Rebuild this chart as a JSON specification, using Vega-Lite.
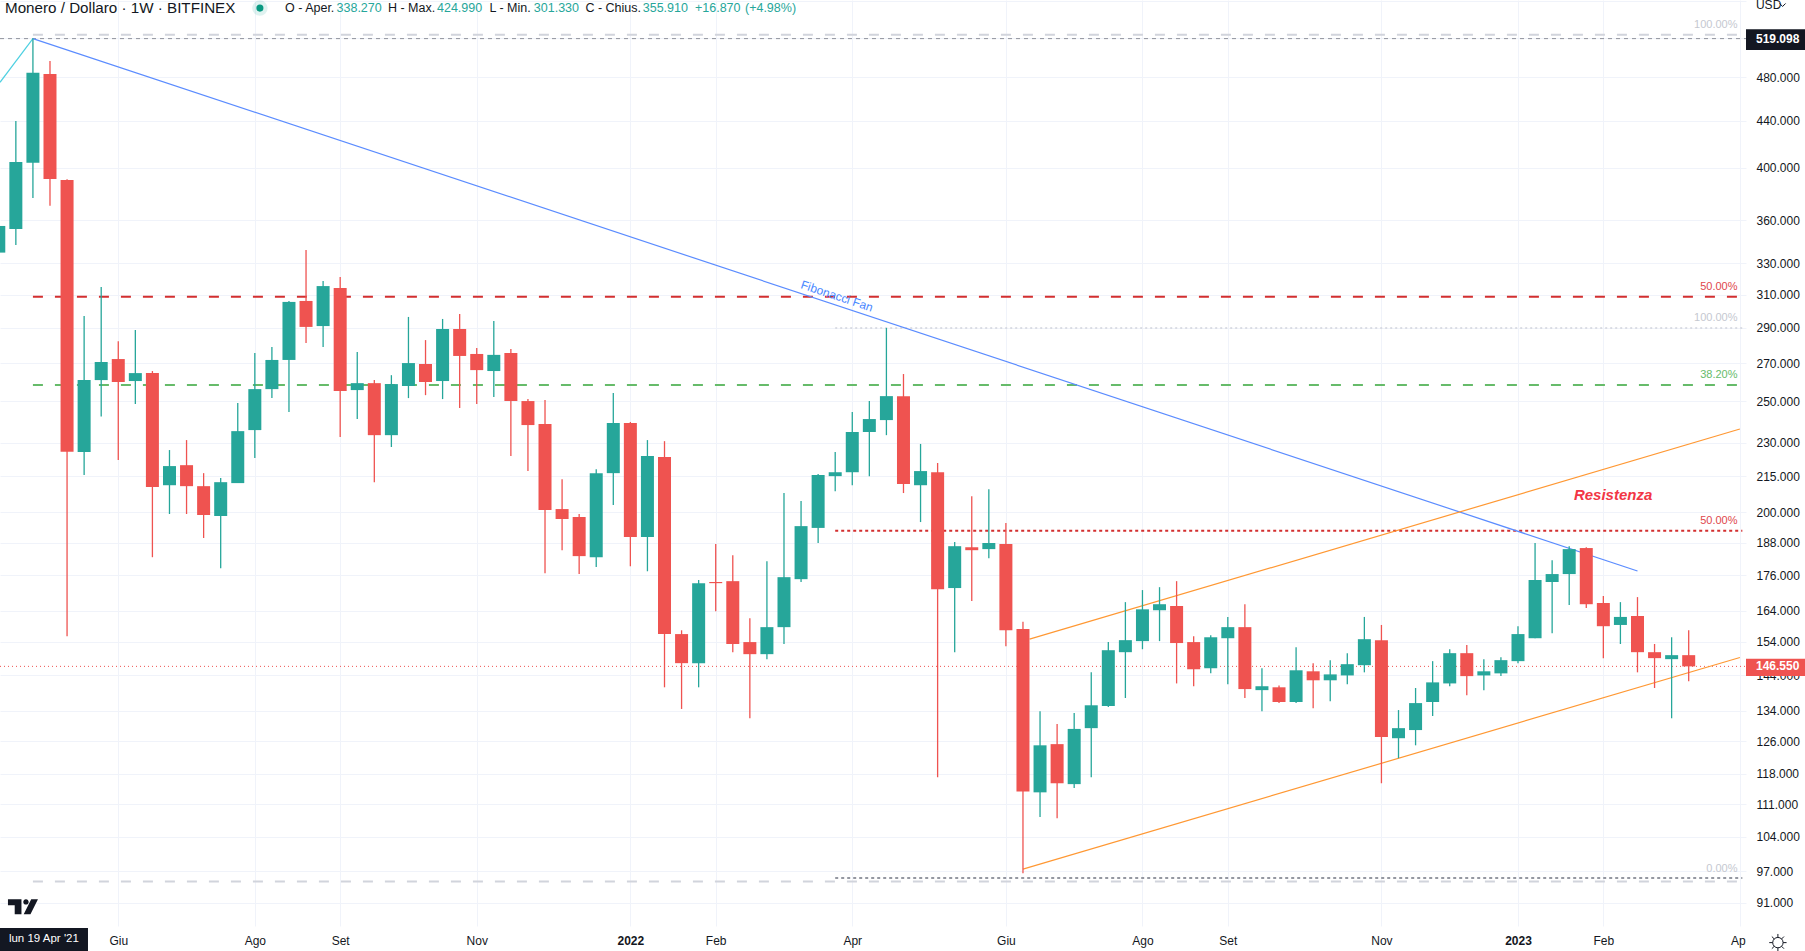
{
  "$schema": "https://vega.github.io/schema/vega-lite/v6.json",
  "description": "Monero / Dollaro weekly candles with channel, fan and fibonacci levels",
  "width": 1746,
  "height": 926,
  "autosize": "none",
  "padding": {"left": 0, "top": 0, "right": 59, "bottom": 25},
  "background": "#ffffff",
  "view": {"stroke": null},
  "config": {"font": "Liberation Sans"},
  "datasets": {
    "candles": [
      {"date":"2021-04-19","open":337.3,"high":360,"low":330,"close":355.9},
      {"date":"2021-04-26","open":353.7,"high":439.7,"low":342.5,"close":404.9},
      {"date":"2021-05-03","open":404.3,"high":519.1,"low":376.5,"close":484.7},
      {"date":"2021-05-10","open":483.4,"high":496.2,"low":370.7,"close":391.2},
      {"date":"2021-05-17","open":390.4,"high":391,"low":155.7,"close":225.8},
      {"date":"2021-05-24","open":225.7,"high":296.9,"low":215.5,"close":260.9},
      {"date":"2021-05-31","open":260.9,"high":314.7,"low":242.4,"close":270.6},
      {"date":"2021-06-07","open":272.2,"high":282.2,"low":222.1,"close":259.9},
      {"date":"2021-06-14","open":260.4,"high":288.6,"low":248.6,"close":264.6},
      {"date":"2021-06-21","open":264.6,"high":265.7,"low":182.6,"close":210.3},
      {"date":"2021-06-28","open":211.1,"high":226.6,"low":199.2,"close":219.4},
      {"date":"2021-07-05","open":219.8,"high":231.2,"low":199.2,"close":210.7},
      {"date":"2021-07-12","open":210.7,"high":216.3,"low":189.8,"close":198.8},
      {"date":"2021-07-19","open":198.4,"high":214.2,"low":178.6,"close":212.4},
      {"date":"2021-07-26","open":212.0,"high":249.1,"low":212.0,"close":235.4},
      {"date":"2021-08-02","open":235.9,"high":275.5,"low":223.0,"close":256.2},
      {"date":"2021-08-09","open":256.2,"high":278.9,"low":251.6,"close":271.7},
      {"date":"2021-08-16","open":271.7,"high":306.0,"low":244.6,"close":305.4},
      {"date":"2021-08-23","open":306.0,"high":339.1,"low":281.1,"close":290.4},
      {"date":"2021-08-30","open":290.9,"high":318.6,"low":278.9,"close":315.3},
      {"date":"2021-09-06","open":314.1,"high":321.1,"low":232.6,"close":255.2},
      {"date":"2021-09-13","open":255.7,"high":276.1,"low":241.2,"close":259.3},
      {"date":"2021-09-20","open":259.3,"high":260.9,"low":212.4,"close":233.5},
      {"date":"2021-09-27","open":233.5,"high":263.5,"low":228.0,"close":258.8},
      {"date":"2021-10-04","open":257.8,"high":296.3,"low":251.6,"close":270.0},
      {"date":"2021-10-11","open":269.5,"high":282.8,"low":253.1,"close":259.9},
      {"date":"2021-10-18","open":260.4,"high":295.1,"low":251.1,"close":289.2},
      {"date":"2021-10-25","open":289.2,"high":298.1,"low":246.6,"close":273.9},
      {"date":"2021-11-01","open":275.0,"high":278.3,"low":248.6,"close":266.2},
      {"date":"2021-11-08","open":265.7,"high":293.9,"low":252.1,"close":274.5},
      {"date":"2021-11-15","open":275.5,"high":277.8,"low":223.9,"close":250.1},
      {"date":"2021-11-22","open":250.1,"high":251.1,"low":217.2,"close":238.3},
      {"date":"2021-11-29","open":238.8,"high":250.6,"low":176.8,"close":200.8},
      {"date":"2021-12-06","open":201.2,"high":213.7,"low":185.2,"close":197.2},
      {"date":"2021-12-13","open":198.0,"high":199.2,"low":176.5,"close":183.0},
      {"date":"2021-12-20","open":182.6,"high":218.0,"low":179.0,"close":216.3},
      {"date":"2021-12-27","open":216.3,"high":254.2,"low":202.9,"close":239.3},
      {"date":"2022-01-03","open":239.3,"high":239.8,"low":179.3,"close":190.2},
      {"date":"2022-01-10","open":190.2,"high":231.2,"low":177.5,"close":223.9},
      {"date":"2022-01-17","open":223.5,"high":230.7,"low":140.5,"close":156.4},
      {"date":"2022-01-24","open":156.4,"high":157.6,"low":134.5,"close":147.5},
      {"date":"2022-01-31","open":147.5,"high":174.4,"low":140.5,"close":173.3},
      {"date":"2022-02-07","open":173.7,"high":187.5,"low":163.8,"close":173.3},
      {"date":"2022-02-14","open":174.0,"high":183.3,"low":150.8,"close":153.3},
      {"date":"2022-02-21","open":153.9,"high":161.5,"low":132.0,"close":150.2},
      {"date":"2022-02-28","open":150.2,"high":181.1,"low":148.7,"close":158.6},
      {"date":"2022-03-07","open":158.6,"high":207.8,"low":153.3,"close":175.4},
      {"date":"2022-03-14","open":174.7,"high":204.5,"low":173.7,"close":194.4},
      {"date":"2022-03-21","open":193.7,"high":215.9,"low":187.9,"close":215.5},
      {"date":"2022-03-28","open":215.0,"high":225.7,"low":208.6,"close":216.7},
      {"date":"2022-04-04","open":216.7,"high":244.6,"low":211.1,"close":235.0},
      {"date":"2022-04-11","open":235.0,"high":250.1,"low":215.0,"close":241.2},
      {"date":"2022-04-18","open":240.7,"high":289.8,"low":233.5,"close":252.6},
      {"date":"2022-04-25","open":252.6,"high":264.1,"low":207.8,"close":211.6},
      {"date":"2022-05-02","open":211.1,"high":229.4,"low":196.0,"close":217.2},
      {"date":"2022-05-09","open":216.7,"high":220.8,"low":117.2,"close":171.2},
      {"date":"2022-05-16","open":171.6,"high":188.3,"low":150.8,"close":186.7},
      {"date":"2022-05-23","open":186.3,"high":206.5,"low":167.2,"close":185.2},
      {"date":"2022-05-30","open":185.6,"high":209.4,"low":182.2,"close":187.9},
      {"date":"2022-06-06","open":187.5,"high":195.6,"low":152.6,"close":157.6},
      {"date":"2022-06-13","open":158.0,"high":160.3,"low":96.6,"close":113.9},
      {"date":"2022-06-20","open":113.7,"high":133.9,"low":108.2,"close":125.0},
      {"date":"2022-06-27","open":125.3,"high":130.5,"low":107.9,"close":115.8},
      {"date":"2022-07-04","open":115.6,"high":133.4,"low":114.7,"close":129.2},
      {"date":"2022-07-11","open":129.4,"high":144.8,"low":117.2,"close":135.5},
      {"date":"2022-07-18","open":135.3,"high":153.9,"low":135.0,"close":151.4},
      {"date":"2022-07-25","open":150.8,"high":166.8,"low":137.5,"close":154.5},
      {"date":"2022-08-01","open":154.2,"high":170.9,"low":151.7,"close":164.4},
      {"date":"2022-08-08","open":164.1,"high":171.9,"low":154.2,"close":166.1},
      {"date":"2022-08-15","open":165.5,"high":174.0,"low":141.6,"close":153.6},
      {"date":"2022-08-22","open":153.9,"high":155.7,"low":140.8,"close":145.7},
      {"date":"2022-08-29","open":146.0,"high":156.0,"low":144.5,"close":155.4},
      {"date":"2022-09-05","open":155.1,"high":161.9,"low":141.4,"close":158.6},
      {"date":"2022-09-12","open":158.6,"high":166.1,"low":137.5,"close":140.0},
      {"date":"2022-09-19","open":139.7,"high":146.0,"low":133.9,"close":140.8},
      {"date":"2022-09-26","open":140.5,"high":141.0,"low":136.1,"close":136.4},
      {"date":"2022-10-03","open":136.4,"high":152.3,"low":136.1,"close":145.4},
      {"date":"2022-10-10","open":145.1,"high":147.5,"low":134.7,"close":142.5},
      {"date":"2022-10-17","open":142.5,"high":148.4,"low":136.6,"close":144.2},
      {"date":"2022-10-24","open":143.9,"high":150.5,"low":141.4,"close":147.2},
      {"date":"2022-10-31","open":146.9,"high":161.9,"low":144.8,"close":154.8},
      {"date":"2022-11-07","open":154.5,"high":159.3,"low":115.8,"close":127.1},
      {"date":"2022-11-14","open":126.8,"high":134.2,"low":121.8,"close":129.4},
      {"date":"2022-11-21","open":128.9,"high":140.3,"low":125.0,"close":136.1},
      {"date":"2022-11-28","open":136.4,"high":148.1,"low":132.6,"close":141.9},
      {"date":"2022-12-05","open":141.6,"high":151.7,"low":140.8,"close":150.5},
      {"date":"2022-12-12","open":150.5,"high":153.0,"low":138.3,"close":143.7},
      {"date":"2022-12-19","open":143.9,"high":148.7,"low":139.7,"close":145.1},
      {"date":"2022-12-26","open":144.5,"high":149.3,"low":143.7,"close":148.4},
      {"date":"2023-01-02","open":148.1,"high":158.9,"low":147.5,"close":156.4},
      {"date":"2023-01-09","open":155.1,"high":187.9,"low":155.1,"close":174.4},
      {"date":"2023-01-16","open":173.7,"high":181.5,"low":156.7,"close":176.5},
      {"date":"2023-01-23","open":176.5,"high":186.7,"low":165.8,"close":185.6},
      {"date":"2023-01-30","open":186.0,"high":186.3,"low":164.8,"close":166.1},
      {"date":"2023-02-06","open":166.5,"high":168.9,"low":149.0,"close":158.9},
      {"date":"2023-02-13","open":159.3,"high":166.8,"low":153.3,"close":161.9},
      {"date":"2023-02-20","open":162.2,"high":168.5,"low":144.8,"close":150.8},
      {"date":"2023-02-27","open":150.8,"high":153.3,"low":140.3,"close":149.0},
      {"date":"2023-03-06","open":148.7,"high":155.4,"low":132.0,"close":149.9},
      {"date":"2023-03-13","open":149.9,"high":157.6,"low":142.2,"close":146.55}
    ],
    "levels": [
      {"line":"fan","date":"2021-05-03T00:00:00Z","price":519.1},
      {"line":"fan","date":"2023-02-20T00:00:00Z","price":177.6},
      {"line":"channelHigh","date":"2022-06-15T17:00:00Z","price":154.8},
      {"line":"channelHigh","date":"2023-04-03T00:00:00Z","price":236.4},
      {"line":"channelLow","date":"2022-06-13T00:00:00Z","price":97.4},
      {"line":"channelLow","date":"2023-04-03T00:00:00Z","price":149.2},
      {"line":"trend","date":"2021-04-19T12:00:00Z","price":475.4},
      {"line":"trend","date":"2021-05-03T00:00:00Z","price":519.1},
      {"line":"fib100","date":"2021-05-03T00:00:00Z","price":523.2},
      {"line":"fib100","date":"2023-04-02T00:00:00Z","price":523.2},
      {"line":"fib0","date":"2021-05-03T00:00:00Z","price":95.0},
      {"line":"fib0","date":"2023-04-02T00:00:00Z","price":95.0},
      {"line":"fib50","date":"2021-05-03T00:00:00Z","price":308.6},
      {"line":"fib50","date":"2023-04-02T00:00:00Z","price":308.6},
      {"line":"fib382","date":"2021-05-03T00:00:00Z","price":258.3},
      {"line":"fib382","date":"2023-04-02T00:00:00Z","price":258.3},
      {"line":"high","date":"2021-04-19T12:00:00Z","price":519.098},
      {"line":"high","date":"2023-04-05T12:00:00Z","price":519.098},
      {"line":"last","date":"2021-04-19T12:00:00Z","price":146.55},
      {"line":"last","date":"2023-04-05T12:00:00Z","price":146.55},
      {"line":"retr100","date":"2022-03-28T00:00:00Z","price":289.8},
      {"line":"retr100","date":"2023-04-05T00:00:00Z","price":289.8},
      {"line":"retr50","date":"2022-03-28T00:00:00Z","price":192.6},
      {"line":"retr50","date":"2023-04-04T00:00:00Z","price":192.6},
      {"line":"retr0","date":"2022-03-28T00:00:00Z","price":95.7},
      {"line":"retr0","date":"2023-04-04T00:00:00Z","price":95.7}
    ]
  },
  "encoding": {
    "x": {
      "field": "date",
      "type": "temporal",
      "scale": {"type": "utc", "domain": ["2021-04-19T12:00:00Z", "2023-04-05T12:00:00Z"], "padding": 0, "nice": false},
      "axis": {
        "title": null,
        "orient": "bottom",
        "values": ["2021-06-07T00:00:00Z","2021-08-02T00:00:00Z","2021-09-06T00:00:00Z","2021-11-01T00:00:00Z","2022-01-03T00:00:00Z","2022-02-07T00:00:00Z","2022-04-04T00:00:00Z","2022-06-06T00:00:00Z","2022-08-01T00:00:00Z","2022-09-05T00:00:00Z","2022-11-07T00:00:00Z","2023-01-02T00:00:00Z","2023-02-06T00:00:00Z","2023-04-03T00:00:00Z"],
        "labelExpr": "utcmonth(datum.value)==0 ? utcyear(datum.value) : ['Gen','Feb','Mar','Apr','Mag','Giu','Lug','Ago','Set','Ott','Nov','Dic'][utcmonth(datum.value)]",
        "labelFontWeight": {"condition": {"test": "utcmonth(datum.value)==0", "value": "bold"}, "value": "normal"},
        "labelFont": "Liberation Sans",
        "labelFontSize": 12,
        "labelColor": "#131722",
        "labelPadding": 9,
        "labelOverlap": false,
        "labelFlush": false,
        "domain": false,
        "ticks": false,
        "grid": true,
        "gridColor": "#f0f3fa",
        "gridWidth": 1
      }
    },
    "y": {
      "field": "price",
      "type": "quantitative",
      "scale": {"type": "log", "domain": [86.86, 561.1], "nice": false, "padding": 0},
      "axis": {
        "title": null,
        "orient": "right",
        "values": [91,97,104,111,118,126,134,144,154,164,176,188,200,215,230,250,270,290,310,330,360,400,440,480,520,560],
        "labelExpr": "datum.value > 500 ? '' : format(datum.value, '.3f')",
        "labelFont": "Liberation Sans",
        "labelFontSize": 12,
        "labelColor": "#131722",
        "labelPadding": 10,
        "labelOverlap": false,
        "labelFlush": false,
        "domain": false,
        "ticks": false,
        "grid": true,
        "gridColor": "#f0f3fa",
        "gridWidth": 1
      }
    }
  },
  "layer": [
    {"data":{"name":"levels"},"transform":[{"filter":"datum.line=='high'"}],"mark":{"type":"line","color":"#8f929b","strokeWidth":1,"strokeDash":[4,4]}},
    {"data":{"name":"levels"},"transform":[{"filter":"datum.line=='last'"}],"mark":{"type":"line","color":"#ef5350","strokeWidth":1,"strokeDash":[1,3]}},
    {"data":{"name":"levels"},"transform":[{"filter":"datum.line=='fib100' || datum.line=='fib0'"}],"mark":{"type":"line","color":"#d1d4dc","strokeWidth":2,"strokeDash":[10,12]},"encoding":{"detail":{"field":"line"}}},
    {"data":{"name":"levels"},"transform":[{"filter":"datum.line=='fib50'"}],"mark":{"type":"line","color":"#d32f2f","strokeWidth":2,"strokeDash":[10,12]}},
    {"data":{"name":"levels"},"transform":[{"filter":"datum.line=='fib382'"}],"mark":{"type":"line","color":"#66bb6a","strokeWidth":2,"strokeDash":[10,12]}},
    {"data":{"name":"levels"},"transform":[{"filter":"datum.line=='retr100'"}],"mark":{"type":"line","color":"#d1d4dc","strokeWidth":1.5,"strokeDash":[2,3]}},
    {"data":{"name":"levels"},"transform":[{"filter":"datum.line=='retr50'"}],"mark":{"type":"line","color":"#d32f2f","strokeWidth":2,"strokeDash":[3,3]}},
    {"data":{"name":"levels"},"transform":[{"filter":"datum.line=='retr0'"}],"mark":{"type":"line","color":"#9598a1","strokeWidth":2,"strokeDash":[3,3]}},
    {"data":{"name":"levels"},"transform":[{"filter":"datum.line=='fan'"}],"mark":{"type":"line","color":"#5b8cff","strokeWidth":1.2}},
    {"data":{"name":"levels"},"transform":[{"filter":"datum.line=='trend'"}],"mark":{"type":"line","color":"#4dd0e1","strokeWidth":1.2}},
    {"data":{"name":"levels"},"transform":[{"filter":"datum.line=='channelHigh' || datum.line=='channelLow'"}],"mark":{"type":"line","color":"#ff9833","strokeWidth":1.2},"encoding":{"detail":{"field":"line"}}},
    {
      "data": {"name": "candles"},
      "mark": {"type": "rule", "strokeWidth": 1.3},
      "encoding": {
        "y": {"field": "low", "type": "quantitative"},
        "y2": {"field": "high"},
        "color": {"condition": {"test": "datum.close >= datum.open", "value": "#26a69a"}, "value": "#ef5350"}
      }
    },
    {
      "data": {"name": "candles"},
      "mark": {"type": "bar", "size": 13, "orient": "vertical"},
      "encoding": {
        "y": {"field": "open", "type": "quantitative"},
        "y2": {"field": "close"},
        "color": {"condition": {"test": "datum.close >= datum.open", "value": "#26a69a"}, "value": "#ef5350"}
      }
    },
    {
      "data": {"values": [{"date":"2021-04-19T12:00:00Z","dateEnd":"2021-05-25T14:00:00Z","top":86.5,"bottom":82.6}]},
      "mark": {"type": "rect", "color": "#131722"},
      "encoding": {"x2": {"field": "dateEnd"}, "y": {"field": "top", "type": "quantitative"}, "y2": {"field": "bottom"}}
    },
    {
      "data": {"values": [{"date":"2023-04-05T12:00:00Z","dateEnd":"2023-04-29T17:00:00Z","top":86.5,"bottom":82.6}]},
      "mark": {"type": "rect", "color": "#ffffff"},
      "encoding": {"x2": {"field": "dateEnd"}, "y": {"field": "top", "type": "quantitative"}, "y2": {"field": "bottom"}}
    },
    {
      "data": {"values": [{"date":"2023-04-05T12:00:00Z","dateEnd":"2023-04-29T17:00:00Z","top":529,"bottom":507.3}]},
      "mark": {"type": "rect", "color": "#131722"},
      "encoding": {"x2": {"field": "dateEnd"}, "y": {"field": "top", "type": "quantitative"}, "y2": {"field": "bottom"}}
    },
    {
      "data": {"values": [{"date":"2023-04-05T12:00:00Z","dateEnd":"2023-04-29T17:00:00Z","top":148.8,"bottom":143.7}]},
      "mark": {"type": "rect", "color": "#ef5350"},
      "encoding": {"x2": {"field": "dateEnd"}, "y": {"field": "top", "type": "quantitative"}, "y2": {"field": "bottom"}}
    },
    {
      "data": {"values": [
        {"date":"2023-04-09T14:00:00Z","price":519.098,"label":"519.098"},
        {"date":"2023-04-09T14:00:00Z","price":146.55,"label":"146.550"}
      ]},
      "mark": {"type": "text", "align": "left", "baseline": "middle", "color": "#ffffff", "fontSize": 12, "fontWeight": "bold"},
      "encoding": {"text": {"field": "label"}}
    },
    {
      "data": {"values": [{"date":"2021-05-07T12:00:00Z","price":84.6,"label":"lun 19 Apr '21"}]},
      "mark": {"type": "text", "align": "center", "baseline": "middle", "color": "#ffffff", "fontSize": 11.5},
      "encoding": {"text": {"field": "label"}}
    },
    {
      "data": {"values": [
        {"date":"2023-04-02T00:00:00Z","price":533.5,"label":"100.00%"},
        {"date":"2023-04-02T00:00:00Z","price":295.9,"label":"100.00%"},
        {"date":"2023-04-02T00:00:00Z","price":97.4,"label":"0.00%"}
      ]},
      "mark": {"type": "text", "align": "right", "baseline": "middle", "color": "#c5c8d0", "fontSize": 11},
      "encoding": {"text": {"field": "label"}}
    },
    {
      "data": {"values": [
        {"date":"2023-04-02T00:00:00Z","price":314.9,"label":"50.00%"},
        {"date":"2023-04-02T00:00:00Z","price":196.5,"label":"50.00%"}
      ]},
      "mark": {"type": "text", "align": "right", "baseline": "middle", "color": "#e0474c", "fontSize": 11},
      "encoding": {"text": {"field": "label"}}
    },
    {
      "data": {"values": [{"date":"2023-04-02T00:00:00Z","price":263.5,"label":"38.20%"}]},
      "mark": {"type": "text", "align": "right", "baseline": "middle", "color": "#66bb6a", "fontSize": 11},
      "encoding": {"text": {"field": "label"}}
    },
    {
      "data": {"values": [{"date":"2023-02-10T00:00:00Z","price":206.9,"label":"Resistenza"}]},
      "mark": {"type": "text", "align": "center", "baseline": "middle", "color": "#f23645", "fontSize": 15, "fontWeight": "bold", "fontStyle": "italic"},
      "encoding": {"text": {"field": "label"}}
    },
    {
      "data": {"values": [{"date":"2022-03-28T17:00:00Z","price":309,"label":"Fibonacci Fan"}]},
      "mark": {"type": "text", "align": "center", "baseline": "middle", "color": "#4a88ff", "fontSize": 12, "angle": 18.35},
      "encoding": {"text": {"field": "label"}}
    },
    {
      "data": {"values": [{"date":"2021-04-21T13:00:00Z","price":552,"label":"Monero / Dollaro · 1W · BITFINEX"}]},
      "mark": {"type": "text", "align": "left", "baseline": "middle", "color": "#131722", "fontSize": 15.2},
      "encoding": {"text": {"field": "label"}}
    },
    {
      "data": {"values": [
        {"date":"2021-08-14T09:00:00Z","price":552,"label":"O - Aper."},
        {"date":"2021-09-25T14:00:00Z","price":552,"label":"H - Max."},
        {"date":"2021-11-06T05:00:00Z","price":552,"label":"L - Min."},
        {"date":"2021-12-15T14:00:00Z","price":552,"label":"C - Chius."}
      ]},
      "mark": {"type": "text", "align": "left", "baseline": "middle", "color": "#131722", "fontSize": 12.5},
      "encoding": {"text": {"field": "label"}}
    },
    {
      "data": {"values": [
        {"date":"2021-09-04T12:00:00Z","price":552,"label":"338.270"},
        {"date":"2021-10-15T17:00:00Z","price":552,"label":"424.990"},
        {"date":"2021-11-24T10:00:00Z","price":552,"label":"301.330"},
        {"date":"2022-01-08T02:00:00Z","price":552,"label":"355.910"},
        {"date":"2022-01-29T12:00:00Z","price":552,"label":"+16.870"},
        {"date":"2022-02-19T00:00:00Z","price":552,"label":"(+4.98%)"}
      ]},
      "mark": {"type": "text", "align": "left", "baseline": "middle", "color": "#26a69a", "fontSize": 12.5},
      "encoding": {"text": {"field": "label"}}
    },
    {
      "data": {"values": [{"date":"2021-08-04T02:00:00Z","price":552}]},
      "mark": {"type": "point", "filled": true, "size": 240, "color": "#26a69a", "opacity": 0.15}
    },
    {
      "data": {"values": [{"date":"2021-08-04T02:00:00Z","price":552}]},
      "mark": {"type": "point", "filled": true, "size": 50, "color": "#089981", "opacity": 1}
    },
    {
      "data": {"values": [{"date":"2023-04-09T14:00:00Z","price":555.5,"label":"USD"}]},
      "mark": {"type": "text", "align": "left", "baseline": "middle", "color": "#131722", "fontSize": 12},
      "encoding": {"text": {"field": "label"}}
    },
    {
      "data": {"values": [{"date":"2023-04-20T12:00:00Z","price":555.5}]},
      "mark": {"type": "point", "shape": "M-1 -0.5 L0 0.5 L1 -0.5", "filled": false, "size": 36, "color": "#131722", "strokeWidth": 1, "opacity": 1}
    },
    {
      "data": {"values": [{"date":"2023-04-18T14:00:00Z","price":84.0}]},
      "mark": {"type": "point", "shape": "M0.6 0 A0.6 0.6 0 1 1 -0.6 0 A0.6 0.6 0 1 1 0.6 0 Z M0 -1 L0 -0.6 M0 1 L0 0.6 M-1 0 L-0.6 0 M1 0 L0.6 0 M-0.7 -0.7 L-0.42 -0.42 M0.7 0.7 L0.42 0.42 M-0.7 0.7 L-0.42 0.42 M0.7 -0.7 L0.42 -0.42", "filled": false, "size": 300, "color": "#131722", "strokeWidth": 1, "opacity": 1}
    },
    {
      "data": {"values": [{"date":"2021-04-28T22:00:00Z","price":90.3}]},
      "mark": {"type": "point", "shape": "M-1 -0.5 H-0.1 V0.5 H-0.55 V-0.1 H-1 Z M0.2 -0.5 A0.18 0.18 0 1 1 0.2 -0.14 A0.18 0.18 0 1 1 0.2 -0.5 Z M0.55 -0.5 H1 L0.5 0.5 H0.05 Z", "filled": true, "size": 900, "color": "#131722", "opacity": 1}
    }
  ]
}
